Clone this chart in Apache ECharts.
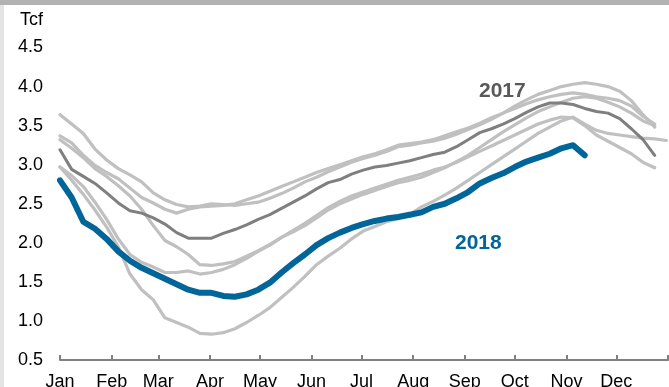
<!DOCTYPE html>
<html>
<head>
<meta charset="utf-8">
<script src="https://cdn.jsdelivr.net/npm/echarts@6/dist/echarts.min.js"></script>
<style>
  html, body { margin: 0; padding: 0; background: #ffffff; }
  #chart { width: 669px; height: 387px; }
</style>
</head>
<body>
<div id="chart"></div>
<script>
// Weekly working gas in storage, Tcf; one point every 7 days from Jan 1
const weekDays = Array.from({ length: 53 }, (_, i) => i * 7);

const monthStarts = [0, 31, 59, 90, 120, 151, 181, 212, 243, 273, 304, 334, 365];
const monthNames = ['Jan', 'Feb', 'Mar', 'Apr', 'May', 'Jun', 'Jul', 'Aug', 'Sep', 'Oct', 'Nov', 'Dec', ''];
const yTicks = [0.5, 1.0, 1.5, 2.0, 2.5, 3.0, 3.5, 4.0, 4.5];

const y2012 = [3.37, 3.28, 3.12, 2.99, 2.90, 2.82, 2.70, 2.58, 2.51, 2.43, 2.38, 2.43, 2.46, 2.47, 2.48, 2.50,
  2.55, 2.60, 2.66, 2.72, 2.78, 2.84, 2.90, 2.95, 3.00, 3.05, 3.10, 3.14, 3.19, 3.25, 3.27, 3.29, 3.32,
  3.37, 3.42, 3.47, 3.53, 3.60, 3.66, 3.72, 3.78, 3.83, 3.87, 3.90, 3.92, 3.90, 3.87, 3.85, 3.82, 3.75, 3.62, 3.52];
const y2013 = [3.32, 3.21, 3.09, 2.95, 2.85, 2.73, 2.60, 2.43, 2.22, 2.03, 1.95, 1.85, 1.72, 1.71, 1.73, 1.76,
  1.83, 1.90, 1.98, 2.07, 2.16, 2.25, 2.35, 2.45, 2.53, 2.60, 2.65, 2.70, 2.75, 2.80, 2.84, 2.88, 2.93,
  2.97, 3.03, 3.10, 3.17, 3.24, 3.31, 3.38, 3.45, 3.52, 3.57, 3.61, 3.60, 3.50, 3.38, 3.30, 3.22, 3.14, 3.03, 2.96];
const y2014 = [2.97, 2.80, 2.62, 2.42, 2.20, 1.95, 1.60, 1.40, 1.27, 1.04, 0.98, 0.92, 0.84, 0.83, 0.85, 0.90,
  0.98, 1.07, 1.17, 1.30, 1.43, 1.57, 1.72, 1.83, 1.93, 2.05, 2.15, 2.21, 2.27, 2.31, 2.36, 2.46, 2.53,
  2.61, 2.70, 2.80, 2.90, 3.00, 3.10, 3.20, 3.30, 3.40, 3.48, 3.56, 3.61, 3.52, 3.44, 3.40, 3.38, 3.36, 3.34, 3.33, 3.31];
const y2015 = [2.97, 2.86, 2.72, 2.52, 2.30, 2.05, 1.85, 1.75, 1.69, 1.62, 1.62, 1.64, 1.60, 1.62, 1.66, 1.72,
  1.80, 1.89, 1.97, 2.07, 2.14, 2.22, 2.32, 2.42, 2.50, 2.56, 2.62, 2.67, 2.72, 2.77, 2.80, 2.84, 2.90,
  2.96, 3.04, 3.12, 3.22, 3.32, 3.42, 3.51, 3.60, 3.68, 3.74, 3.80, 3.85, 3.87, 3.85, 3.80, 3.74, 3.66, 3.56, 3.50];
const y2016 = [3.64, 3.52, 3.40, 3.20, 3.06, 2.95, 2.87, 2.78, 2.64, 2.55, 2.49, 2.46, 2.47, 2.50, 2.49, 2.48,
  2.50, 2.52, 2.57, 2.63, 2.70, 2.78, 2.84, 2.91, 2.97, 3.03, 3.08, 3.12, 3.17, 3.23, 3.25, 3.28, 3.30,
  3.34, 3.39, 3.45, 3.51, 3.58, 3.66, 3.75, 3.83, 3.90, 3.95, 4.00, 4.03, 4.05, 4.03, 4.00, 3.94, 3.82, 3.64, 3.48];
const y2017 = [3.19, 2.94, 2.85, 2.76, 2.64, 2.51, 2.41, 2.38, 2.32, 2.24, 2.13, 2.06, 2.06, 2.06, 2.12, 2.17,
  2.23, 2.30, 2.36, 2.44, 2.52, 2.60, 2.69, 2.77, 2.81, 2.88, 2.93, 2.97, 2.99, 3.02, 3.05, 3.09, 3.13,
  3.16, 3.23, 3.32, 3.41, 3.46, 3.52, 3.59, 3.67, 3.74, 3.79, 3.79, 3.77, 3.72, 3.68, 3.66, 3.59, 3.46, 3.32, 3.12];
const y2018 = [2.80, 2.58, 2.27, 2.18, 2.05, 1.89, 1.77, 1.68, 1.61, 1.54, 1.47, 1.40, 1.36, 1.36, 1.32, 1.31,
  1.34, 1.40, 1.49, 1.62, 1.74, 1.85, 1.97, 2.06, 2.13, 2.19, 2.24, 2.28, 2.31, 2.33, 2.36, 2.39, 2.46,
  2.50, 2.57, 2.65, 2.76, 2.83, 2.89, 2.97, 3.04, 3.09, 3.14, 3.21, 3.25, 3.12];

const pastYears = [y2012, y2013, y2014, y2015, y2016];

const pair = (vals) => vals.map((v, i) => [weekDays[i], v]);

const FONT = 'Liberation Sans, Arial, sans-serif';

const chart = echarts.init(document.getElementById('chart'), null, { renderer: 'canvas' });

const series = pastYears.map((vals) => ({
  type: 'line',
  data: pair(vals),
  showSymbol: false,
  lineStyle: { color: '#c0c0c0', width: 3.2, cap: 'round', join: 'round' },
  silent: true,
  z: 2
}));

series.push({
  type: 'line',
  data: pair(y2017),
  showSymbol: false,
  lineStyle: { color: '#7f7f7f', width: 3, cap: 'round', join: 'round' },
  silent: true,
  z: 3
});

series.push({
  type: 'line',
  data: pair(y2018),
  showSymbol: false,
  lineStyle: { color: '#006699', width: 6, cap: 'round', join: 'round' },
  silent: true,
  z: 4
});

chart.setOption({
  animation: false,
  backgroundColor: '#ffffff',
  grid: { left: 60, right: 1, top: 47.5, bottom: 27, containLabel: false, outerBoundsMode: 'none' },
  xAxis: {
    type: 'value',
    min: 0,
    max: 365,
    splitLine: { show: false },
    axisLine: { show: true, lineStyle: { color: '#808080', width: 2 } },
    axisTick: {
      show: true,
      length: 5,
      inside: true,
      customValues: monthStarts,
      lineStyle: { color: '#808080', width: 2 }
    },
    axisLabel: {
      show: true,
      customValues: monthStarts.slice(0, 12),
      formatter: (v) => monthNames[monthStarts.indexOf(v)] || '',
      color: '#000000',
      fontFamily: FONT,
      fontSize: 18,
      margin: 13
    }
  },
  yAxis: {
    type: 'value',
    min: 0.5,
    max: 4.5,
    interval: 0.5,
    name: 'Tcf',
    nameLocation: 'end',
    nameGap: 27,
    nameTextStyle: { color: '#000000', fontFamily: FONT, fontSize: 18, align: 'right', verticalAlign: 'middle', padding: [0, 17, 0, 0] },
    axisLine: { show: false },
    axisTick: { show: false },
    splitLine: { show: false },
    axisLabel: {
      color: '#000000',
      fontFamily: FONT,
      fontSize: 18,
      margin: 17,
      formatter: (v) => v.toFixed(1)
    }
  },
  graphic: [
    { type: 'rect', left: 0, top: 0, shape: { width: 669, height: 5 }, style: { fill: '#b2b2b2' }, z: 10 },
    { type: 'rect', left: 0, top: 5, shape: { width: 4, height: 382 }, style: { fill: '#e4e4e4' }, z: 10 },
    { type: 'text', left: 479, top: 81, style: { text: '2017', fill: '#595959', font: 'bold 21px ' + FONT }, z: 10 },
    { type: 'text', left: 455, top: 233, style: { text: '2018', fill: '#006699', font: 'bold 21px ' + FONT }, z: 10 }
  ],
  series: series
});
</script>
</body>
</html>
